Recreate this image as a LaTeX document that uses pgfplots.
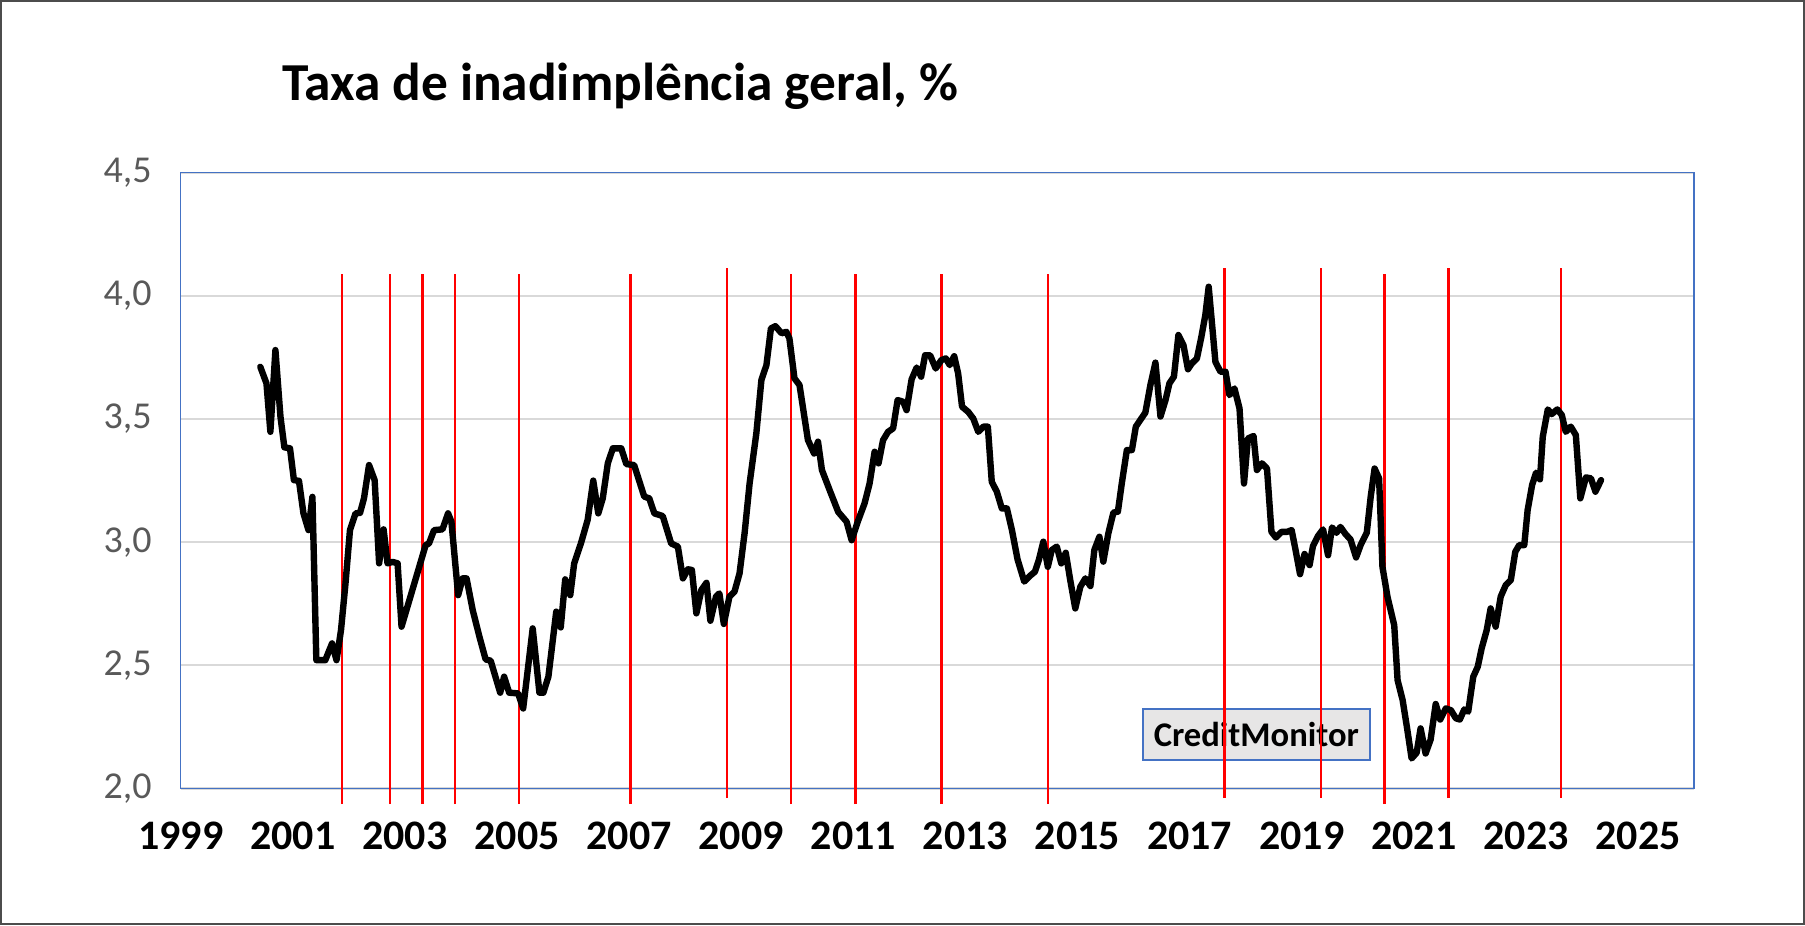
\documentclass[border=0pt]{standalone}
\usepackage{pgfplots}
\pgfplotsset{compat=1.18}
\usepackage{fontspec}
\setmainfont{Carlito}
\definecolor{frameblue}{HTML}{4472C4}
\definecolor{gridgray}{HTML}{D9D9D9}
\definecolor{labgray}{HTML}{595959}
\definecolor{boxgray}{HTML}{E7E6E6}
\begin{document}
\begin{tikzpicture}
\useasboundingbox (-90.35pt,-68.75pt) rectangle (812.15pt,394.25pt);
\draw[line width=1pt, draw=black!70] (-89.6pt,-68pt) rectangle (811.4pt,393.5pt);
\node[anchor=base west, inner sep=0pt, font=\fontsize{26.7}{32}\selectfont\bfseries] at (50.5pt,343.75pt) {Taxa de inadimplência geral, \%};
\begin{axis}[
  at={(0,0)}, anchor=south west,
  scale only axis, width=756.7pt, height=307.9pt,
  xmin=1999, xmax=2026, ymin=2, ymax=4.5,
  xtick={1999,2001,...,2025},
  xticklabels={1999,2001,2003,2005,2007,2009,2011,2013,2015,2017,2019,2021,2023,2025},
  ytick={2,2.5,3,3.5,4,4.5},
  yticklabels={{2,0},{2,5},{3,0},{3,5},{4,0},{4,5}},
  ymajorgrids, major grid style={gridgray, line width=1pt},
  axis line style={frameblue, line width=0.8pt},
  major tick length=0pt,
  xticklabel style={font=\fontsize{21}{25}\selectfont\bfseries, yshift=-13pt},
  yticklabel style={font=\fontsize{19}{23}\selectfont, text=labgray, xshift=-11pt},
  clip=false,
]
\node[draw=frameblue, fill=boxgray, line width=0.8pt, minimum width=113.5pt, minimum height=25.5pt, inner sep=0pt, font=\fontsize{17.3}{20}\selectfont\bfseries] at (axis cs:2018.19,2.219) {CreditMonitor};
% red reference lines
\addplot[red, line width=1.15pt, unbounded coords=jump] coordinates {
(2001.883,1.937) (2001.883,4.09) (2001.883,nan)
(2002.734,1.937) (2002.734,4.09) (2002.734,nan)
(2003.312,1.937) (2003.312,4.09) (2003.312,nan)
(2003.891,1.937) (2003.891,4.09) (2003.891,nan)
(2005.034,1.937) (2005.034,4.09) (2005.034,nan)
(2007.023,1.937) (2007.023,4.09) (2007.023,nan)
(2008.751,1.961) (2008.751,4.113) (2008.751,nan)
(2009.894,1.937) (2009.894,4.09) (2009.894,nan)
(2011.038,1.937) (2011.038,4.09) (2011.038,nan)
(2012.575,1.937) (2012.575,4.09) (2012.575,nan)
(2014.470,1.937) (2014.470,4.09) (2014.470,nan)
(2017.620,1.961) (2017.620,4.113) (2017.620,nan)
(2019.342,1.961) (2019.342,4.113) (2019.342,nan)
(2020.479,1.937) (2020.479,4.09) (2020.479,nan)
(2021.617,1.961) (2021.617,4.113) (2021.617,nan)
(2023.624,1.961) (2023.624,4.113)
};
\addplot[black, line width=3.2pt, line join=round, line cap=round] table {
x y
2000.42 3.712
2000.53 3.645
2000.60 3.448
2000.69 3.780
2000.78 3.509
2000.85 3.385
2000.95 3.381
2001.02 3.252
2001.11 3.249
2001.19 3.117
2001.28 3.049
2001.35 3.184
2001.42 2.521
2001.58 2.521
2001.70 2.589
2001.78 2.521
2001.86 2.643
2001.94 2.832
2002.02 3.049
2002.12 3.117
2002.20 3.119
2002.27 3.178
2002.36 3.313
2002.46 3.252
2002.54 2.914
2002.62 3.052
2002.69 2.914
2002.78 2.920
2002.87 2.914
2002.94 2.657
2003.37 2.988
2003.43 2.995
2003.52 3.049
2003.67 3.052
2003.77 3.117
2003.83 3.083
2003.95 2.785
2004.03 2.853
2004.10 2.853
2004.21 2.724
2004.33 2.616
2004.44 2.524
2004.53 2.519
2004.70 2.389
2004.77 2.454
2004.86 2.389
2005.02 2.386
2005.11 2.325
2005.28 2.650
2005.40 2.389
2005.47 2.389
2005.56 2.454
2005.70 2.718
2005.78 2.654
2005.86 2.849
2005.95 2.785
2006.02 2.914
2006.14 2.995
2006.26 3.090
2006.36 3.250
2006.45 3.117
2006.53 3.178
2006.62 3.320
2006.71 3.381
2006.86 3.381
2006.95 3.317
2007.09 3.313
2007.27 3.185
2007.36 3.178
2007.45 3.117
2007.60 3.106
2007.75 2.995
2007.87 2.982
2007.96 2.853
2008.05 2.890
2008.12 2.887
2008.20 2.711
2008.29 2.806
2008.38 2.835
2008.45 2.681
2008.55 2.779
2008.61 2.792
2008.69 2.668
2008.79 2.779
2008.88 2.799
2008.97 2.873
2009.06 3.036
2009.15 3.239
2009.27 3.442
2009.36 3.658
2009.45 3.719
2009.53 3.868
2009.61 3.877
2009.72 3.848
2009.805 3.854
2009.86 3.827
2009.95 3.665
2010.04 3.638
2010.19 3.415
2010.30 3.360
2010.37 3.408
2010.44 3.293
2010.58 3.210
2010.73 3.123
2010.88 3.083
2010.97 3.008
2011.09 3.090
2011.20 3.157
2011.29 3.238
2011.38 3.367
2011.45 3.320
2011.53 3.414
2011.62 3.448
2011.71 3.462
2011.79 3.577
2011.89 3.570
2011.95 3.536
2012.04 3.661
2012.13 3.709
2012.21 3.672
2012.28 3.759
2012.37 3.759
2012.47 3.705
2012.57 3.739
2012.65 3.746
2012.72 3.719
2012.80 3.755
2012.87 3.685
2012.94 3.550
2013.05 3.529
2013.14 3.502
2013.23 3.448
2013.32 3.469
2013.40 3.469
2013.47 3.245
2013.56 3.205
2013.65 3.137
2013.74 3.137
2013.83 3.049
2013.93 2.930
2014.05 2.840
2014.15 2.863
2014.24 2.880
2014.31 2.928
2014.39 3.002
2014.47 2.900
2014.54 2.968
2014.63 2.982
2014.71 2.914
2014.79 2.957
2014.87 2.846
2014.96 2.731
2015.05 2.819
2015.14 2.853
2015.23 2.822
2015.30 2.968
2015.39 3.022
2015.46 2.921
2015.55 3.036
2015.64 3.120
2015.72 3.124
2015.79 3.239
2015.88 3.374
2015.97 3.374
2016.04 3.469
2016.12 3.496
2016.21 3.526
2016.30 3.638
2016.39 3.729
2016.48 3.510
2016.57 3.577
2016.64 3.645
2016.72 3.672
2016.80 3.841
2016.89 3.800
2016.97 3.702
2017.04 3.726
2017.13 3.746
2017.21 3.834
2017.28 3.922
2017.34 4.037
2017.46 3.732
2017.55 3.692
2017.64 3.692
2017.71 3.597
2017.80 3.624
2017.89 3.543
2017.97 3.238
2018.04 3.421
2018.14 3.431
2018.20 3.293
2018.29 3.320
2018.38 3.299
2018.46 3.042
2018.54 3.019
2018.64 3.042
2018.74 3.042
2018.82 3.049
2018.89 2.968
2018.97 2.870
2019.05 2.952
2019.14 2.907
2019.20 2.984
2019.29 3.025
2019.38 3.052
2019.47 2.947
2019.54 3.060
2019.62 3.038
2019.69 3.062
2019.78 3.033
2019.87 3.011
2019.97 2.938
2020.05 2.988
2020.16 3.038
2020.23 3.184
2020.30 3.299
2020.38 3.259
2020.44 2.900
2020.53 2.778
2020.65 2.663
2020.71 2.440
2020.80 2.359
2020.88 2.244
2020.96 2.122
2021.05 2.145
2021.12 2.244
2021.21 2.142
2021.30 2.199
2021.39 2.343
2021.47 2.280
2021.57 2.325
2021.66 2.318
2021.75 2.285
2021.82 2.280
2021.90 2.321
2021.97 2.312
2022.06 2.454
2022.14 2.494
2022.21 2.569
2022.30 2.643
2022.37 2.731
2022.46 2.657
2022.55 2.779
2022.64 2.826
2022.73 2.846
2022.81 2.961
2022.88 2.988
2022.97 2.988
2023.03 3.130
2023.11 3.232
2023.18 3.282
2023.25 3.255
2023.30 3.428
2023.39 3.539
2023.46 3.520
2023.56 3.539
2023.64 3.516
2023.71 3.448
2023.80 3.469
2023.89 3.435
2023.97 3.178
2024.07 3.263
2024.16 3.259
2024.24 3.205
2024.34 3.252
};
\end{axis}
\end{tikzpicture}
\end{document}
